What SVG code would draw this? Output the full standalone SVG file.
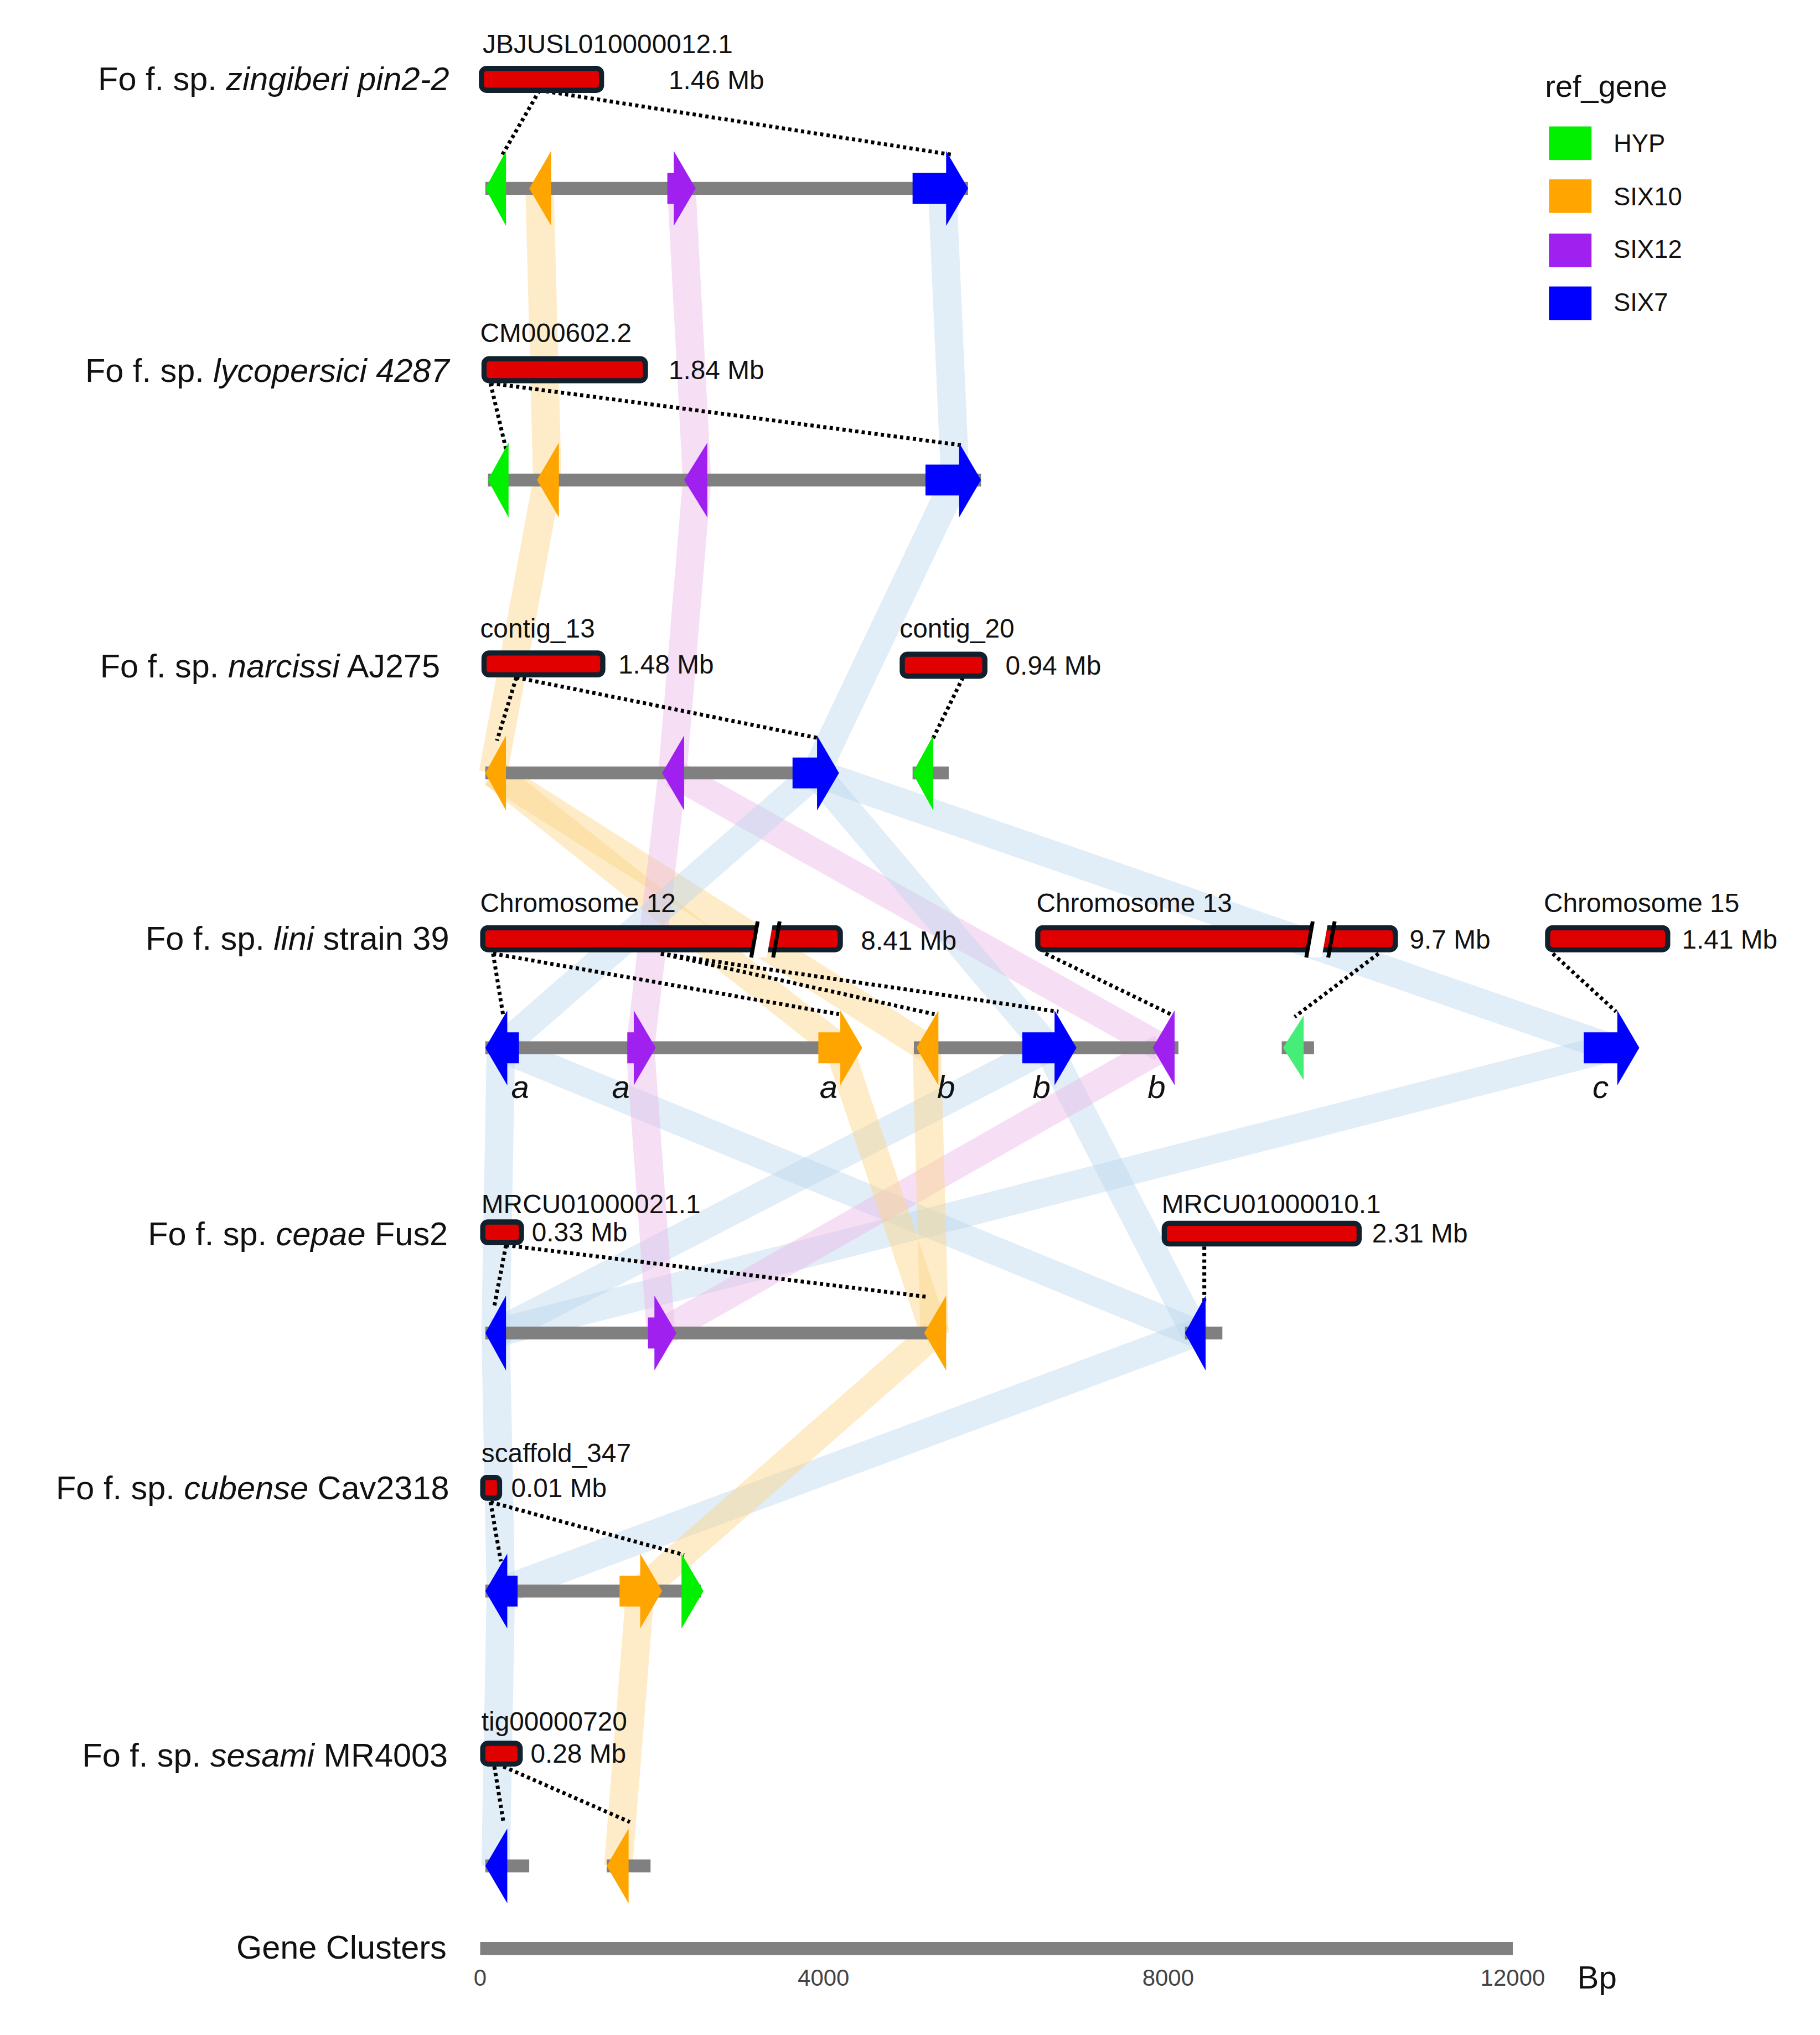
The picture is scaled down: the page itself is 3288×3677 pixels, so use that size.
<svg xmlns="http://www.w3.org/2000/svg" width="3288" height="3677" viewBox="0 0 3288 3677">
<style>
text{font-family:"Liberation Sans",Arial,sans-serif;fill:#111}
.lab{font-size:25.5px;text-anchor:end}
.ctg{font-size:20.5px}
.mb{font-size:20.5px}
.ab{font-size:25px;font-style:italic;text-anchor:middle}
.ax{font-size:18px;text-anchor:middle;fill:#444}
.trk{stroke:#808080;stroke-width:10;fill:none}
.bar{fill:#e00000;stroke:#10202c;stroke-width:4}
.dot{stroke:#000;stroke-width:3;stroke-dasharray:2.5 2.5;fill:none}
.rb{stroke-width:22;fill:none;stroke-opacity:0.45}
.rB{stroke:#bcd6ee}.rO{stroke:#fcd585}.rP{stroke:#eab8e6}
.HYP{fill:#00f000}.S10{fill:#ffa500}.S12{fill:#a020f0}.S7{fill:#0000ff}
</style>
<rect width="3288" height="3677" fill="#fff"/>
<g transform="scale(2.3319,2.3316)">
<g id="ribbons">
<line class="rb rO" x1="418" y1="146" x2="424" y2="372"/>
<line class="rb rP" x1="528" y1="146" x2="540" y2="372"/>
<line class="rb rB" x1="730" y1="146" x2="740" y2="372"/>
<line class="rb rO" x1="424" y1="372" x2="382" y2="599"/>
<line class="rb rP" x1="540" y1="372" x2="521" y2="599"/>
<line class="rb rB" x1="740" y1="372" x2="632" y2="599"/>
<line class="rb rO" x1="382" y1="599" x2="650" y2="812"/>
<line class="rb rO" x1="382" y1="599" x2="718" y2="812"/>
<line class="rb rP" x1="521" y1="599" x2="496" y2="812"/>
<line class="rb rP" x1="521" y1="599" x2="900" y2="812"/>
<line class="rb rB" x1="632" y1="599" x2="388" y2="812"/>
<line class="rb rB" x1="632" y1="599" x2="812" y2="812"/>
<line class="rb rB" x1="632" y1="599" x2="1248" y2="812"/>
<line class="rb rB" x1="388" y1="812" x2="384" y2="1033"/>
<line class="rb rB" x1="388" y1="812" x2="926" y2="1033"/>
<line class="rb rB" x1="812" y1="812" x2="384" y2="1033"/>
<line class="rb rB" x1="812" y1="812" x2="926" y2="1033"/>
<line class="rb rB" x1="1248" y1="812" x2="384" y2="1033"/>
<line class="rb rP" x1="496" y1="812" x2="512" y2="1033"/>
<line class="rb rP" x1="900" y1="812" x2="512" y2="1033"/>
<line class="rb rO" x1="650" y1="812" x2="724" y2="1033"/>
<line class="rb rO" x1="718" y1="812" x2="724" y2="1033"/>
<line class="rb rB" x1="384" y1="1033" x2="388" y2="1233"/>
<line class="rb rB" x1="926" y1="1033" x2="388" y2="1233"/>
<line class="rb rO" x1="724" y1="1033" x2="496" y2="1233"/>
<line class="rb rB" x1="388" y1="1233" x2="384" y2="1446"/>
<line class="rb rO" x1="496" y1="1233" x2="479" y2="1446"/>
</g>
<g id="connectors">
<line class="dot" x1="418" y1="70" x2="388" y2="122"/>
<line class="dot" x1="418" y1="70" x2="738" y2="120"/>
<line class="dot" x1="380" y1="297" x2="392" y2="348"/>
<line class="dot" x1="380" y1="297" x2="745" y2="345"/>
<line class="dot" x1="400" y1="525" x2="385" y2="574"/>
<line class="dot" x1="400" y1="525" x2="634" y2="572"/>
<line class="dot" x1="746" y1="525" x2="722" y2="574"/>
<line class="dot" x1="382" y1="739" x2="390" y2="788"/>
<line class="dot" x1="382" y1="739" x2="650" y2="786"/>
<line class="dot" x1="512" y1="739" x2="724" y2="786"/>
<line class="dot" x1="512" y1="739" x2="820" y2="784"/>
<line class="dot" x1="810" y1="739" x2="907" y2="786"/>
<line class="dot" x1="1068" y1="739" x2="1003" y2="788"/>
<line class="dot" x1="1203" y1="739" x2="1252" y2="784"/>
<line class="dot" x1="392" y1="965" x2="383" y2="1012"/>
<line class="dot" x1="392" y1="965" x2="718" y2="1005"/>
<line class="dot" x1="933" y1="966" x2="933" y2="1010"/>
<line class="dot" x1="380" y1="1164" x2="388" y2="1210"/>
<line class="dot" x1="380" y1="1164" x2="530" y2="1205"/>
<line class="dot" x1="383" y1="1369" x2="390" y2="1412"/>
<line class="dot" x1="390" y1="1369" x2="488" y2="1412"/>
</g>
<g id="row1">
<text class="lab" x="348" y="70">Fo f. sp. <tspan font-style="italic">zingiberi pin2-2</tspan></text>
<text class="ctg" x="374" y="41">JBJUSL010000012.1</text>
<rect class="bar" x="373" y="53" width="93" height="17" rx="4"/>
<text class="mb" x="518" y="69">1.46 Mb</text>
<line class="trk" x1="376" y1="146" x2="750" y2="146"/>
<polygon class="HYP" points="392,117 376,146 392,175"/>
<polygon class="S10" points="427,117 410,146 427,175"/>
<polygon class="S12" points="517,134 522,134 522,117 539,146 522,175 522,158 517,158"/>
<polygon class="S7" points="707,134 733,134 733,117 750,146 733,175 733,158 707,158"/>
</g>
<g id="row2">
<text class="lab" x="348" y="296">Fo f. sp. <tspan font-style="italic">lycopersici 4287</tspan></text>
<text class="ctg" x="372" y="265">CM000602.2</text>
<rect class="bar" x="375" y="278" width="125" height="17" rx="4"/>
<text class="mb" x="518" y="294">1.84 Mb</text>
<line class="trk" x1="378" y1="372" x2="760" y2="372"/>
<polygon class="HYP" points="394,343 378,372 394,401"/>
<polygon class="S10" points="433,343 416,372 433,401"/>
<polygon class="S12" points="548,343 530,372 548,401"/>
<polygon class="S7" points="717,360 743,360 743,343 760,372 743,401 743,384 717,384"/>
</g>
<g id="row3">
<text class="lab" x="341" y="525">Fo f. sp. <tspan font-style="italic">narcissi</tspan> AJ275</text>
<text class="ctg" x="372" y="494">contig_13</text>
<rect class="bar" x="375" y="506" width="92" height="17" rx="4"/>
<text class="mb" x="479" y="522">1.48 Mb</text>
<text class="ctg" x="697" y="494">contig_20</text>
<rect class="bar" x="699" y="507" width="64" height="17" rx="4"/>
<text class="mb" x="779" y="523">0.94 Mb</text>
<line class="trk" x1="376" y1="599" x2="640" y2="599"/>
<line class="trk" x1="707" y1="599" x2="735" y2="599"/>
<polygon class="S10" points="392,570 376,599 392,628"/>
<polygon class="S12" points="530,570 513,599 530,628"/>
<polygon class="S7" points="614,587 633,587 633,570 650,599 633,628 633,611 614,611"/>
<polygon class="HYP" points="723,570 707,599 723,628"/>
</g>
<g id="row4">
<text class="lab" x="348" y="736">Fo f. sp. <tspan font-style="italic">lini</tspan> strain 39</text>
<text class="ctg" x="372" y="707">Chromosome 12</text>
<rect class="bar" x="374" y="719" width="277" height="17" rx="4"/>
<polygon points="587,714 599,714 594,742 582,742" fill="#fff"/>
<line x1="587" y1="714" x2="582" y2="742" stroke="#000" stroke-width="3"/>
<line x1="604" y1="714" x2="599" y2="742" stroke="#000" stroke-width="3"/>
<text class="mb" x="667" y="736">8.41 Mb</text>
<text class="ctg" x="803" y="707">Chromosome 13</text>
<rect class="bar" x="804" y="719" width="277" height="17" rx="4"/>
<polygon points="1017,714 1029,714 1024,742 1012,742" fill="#fff"/>
<line x1="1017" y1="714" x2="1012" y2="742" stroke="#000" stroke-width="3"/>
<line x1="1034" y1="714" x2="1029" y2="742" stroke="#000" stroke-width="3"/>
<text class="mb" x="1092" y="735">9.7 Mb</text>
<text class="ctg" x="1196" y="707">Chromosome 15</text>
<rect class="bar" x="1199" y="719" width="93" height="17" rx="4"/>
<text class="mb" x="1303" y="735">1.41 Mb</text>
<line class="trk" x1="376" y1="812" x2="665" y2="812"/>
<line class="trk" x1="708" y1="812" x2="913" y2="812"/>
<line class="trk" x1="993" y1="812" x2="1018" y2="812"/>
<polygon class="S7" points="376,812 393,783 393,800 402,800 402,824 393,824 393,841"/>
<polygon class="S12" points="486,800 491,800 491,783 508,812 491,841 491,824 486,824"/>
<polygon class="S10" points="634,800 651,800 651,783 668,812 651,841 651,824 634,824"/>
<polygon class="S10" points="727,783 710,812 727,841"/>
<polygon class="S7" points="792,800 817,800 817,783 834,812 817,841 817,824 792,824"/>
<polygon class="S12" points="910,783 893,812 910,841"/>
<polygon fill="#44ee77" points="1010,787 994,812 1010,837"/>
<polygon class="S7" points="1227,800 1253,800 1253,783 1270,812 1253,841 1253,824 1227,824"/>
<text class="ab" x="403" y="851">a</text>
<text class="ab" x="481" y="851">a</text>
<text class="ab" x="642" y="851">a</text>
<text class="ab" x="733" y="851">b</text>
<text class="ab" x="807" y="851">b</text>
<text class="ab" x="896" y="851">b</text>
<text class="ab" x="1240" y="851">c</text>
</g>
<g id="row5">
<text class="lab" x="347" y="965">Fo f. sp. <tspan font-style="italic">cepae</tspan> Fus2</text>
<text class="ctg" x="373" y="940">MRCU01000021.1</text>
<rect class="bar" x="374" y="947" width="30" height="16" rx="4"/>
<text class="mb" x="412" y="962">0.33 Mb</text>
<text class="ctg" x="900" y="940">MRCU01000010.1</text>
<rect class="bar" x="902" y="948" width="151" height="16" rx="4"/>
<text class="mb" x="1063" y="963">2.31 Mb</text>
<line class="trk" x1="376" y1="1033" x2="733" y2="1033"/>
<line class="trk" x1="918" y1="1033" x2="947" y2="1033"/>
<polygon class="S7" points="392,1004 376,1033 392,1062"/>
<polygon class="S12" points="502,1021 507,1021 507,1004 524,1033 507,1062 507,1045 502,1045"/>
<polygon class="S10" points="733,1004 716,1033 733,1062"/>
<polygon class="S7" points="934,1004 918,1033 934,1062"/>
</g>
<g id="row6">
<text class="lab" x="348" y="1162">Fo f. sp. <tspan font-style="italic">cubense</tspan> Cav2318</text>
<text class="ctg" x="373" y="1133">scaffold_347</text>
<rect class="bar" x="374" y="1145" width="13" height="16" rx="3"/>
<text class="mb" x="396" y="1160">0.01 Mb</text>
<line class="trk" x1="376" y1="1233" x2="543" y2="1233"/>
<polygon class="S7" points="376,1233 393,1204 393,1221 401,1221 401,1245 393,1245 393,1262"/>
<polygon class="S10" points="480,1221 496,1221 496,1204 513,1233 496,1262 496,1245 480,1245"/>
<polygon class="HYP" points="528,1204 545,1233 528,1262"/>
</g>
<g id="row7">
<text class="lab" x="347" y="1369">Fo f. sp. <tspan font-style="italic">sesami</tspan> MR4003</text>
<text class="ctg" x="373" y="1341">tig00000720</text>
<rect class="bar" x="374" y="1351" width="29" height="16" rx="4"/>
<text class="mb" x="411" y="1366">0.28 Mb</text>
<line class="trk" x1="376" y1="1446" x2="410" y2="1446"/>
<line class="trk" x1="470" y1="1446" x2="504" y2="1446"/>
<polygon class="S7" points="393,1417 376,1446 393,1475"/>
<polygon class="S10" points="487,1417 470,1446 487,1475"/>
</g>
<g id="axis">
<text class="lab" x="346" y="1518">Gene Clusters</text>
<line class="trk" x1="372" y1="1510" x2="1172" y2="1510"/>
<text class="ax" x="372" y="1539">0</text>
<text class="ax" x="638" y="1539">4000</text>
<text class="ax" x="905" y="1539">8000</text>
<text class="ax" x="1172" y="1539">12000</text>
<text x="1222" y="1541" font-size="25">Bp</text>
</g>
<g id="legend">
<text x="1197" y="75" font-size="24">ref_gene</text>
<rect class="HYP" x="1200" y="98" width="33" height="26"/>
<text x="1250" y="118" font-size="19.5">HYP</text>
<rect class="S10" x="1200" y="139" width="33" height="26"/>
<text x="1250" y="159" font-size="19.5">SIX10</text>
<rect class="S12" x="1200" y="181" width="33" height="26"/>
<text x="1250" y="200" font-size="19.5">SIX12</text>
<rect class="S7" x="1200" y="222" width="33" height="26"/>
<text x="1250" y="241" font-size="19.5">SIX7</text>
</g>
</g>
</svg>
